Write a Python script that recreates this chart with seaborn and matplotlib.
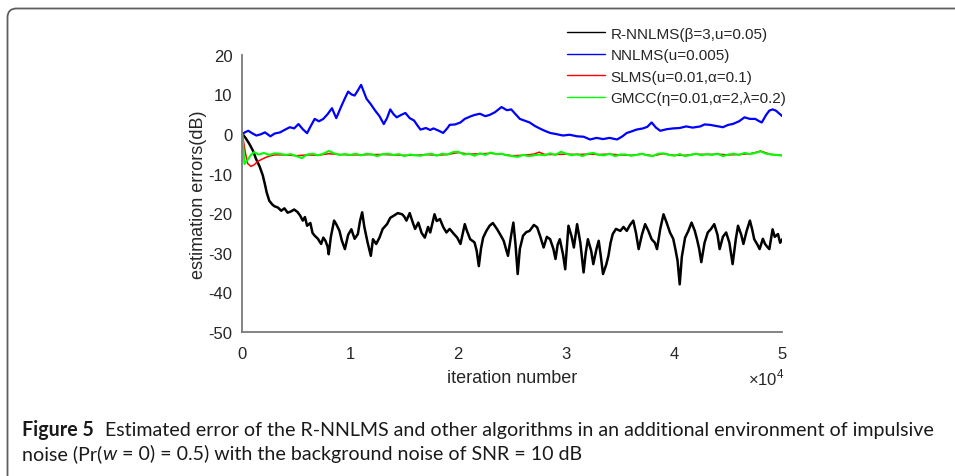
import numpy as np
import pandas as pd
import matplotlib
matplotlib.use('Agg')
import matplotlib.pyplot as plt
from matplotlib.patches import FancyBboxPatch
from matplotlib.ticker import FuncFormatter, MultipleLocator
from matplotlib.transforms import IdentityTransform
import seaborn as sns

# ---- data (x in units of 1e4 iterations, y in dB) ----
rnnlms_x = [0, 0.03, 0.065, 0.1, 0.127, 0.16, 0.19, 0.21, 0.226, 0.25, 0.28, 0.3, 0.33, 0.36,
            0.39, 0.42, 0.45, 0.48, 0.51, 0.535, 0.56, 0.58, 0.6, 0.63, 0.65, 0.67, 0.7, 0.73,
            0.75, 0.77, 0.79, 0.8, 0.82, 0.85, 0.87, 0.9, 0.92, 0.95, 0.98, 1.01, 1.04, 1.07,
            1.09, 1.11, 1.13, 1.16, 1.19, 1.21, 1.24, 1.27, 1.3, 1.34, 1.37, 1.4, 1.44, 1.48,
            1.5, 1.52, 1.55, 1.58, 1.6, 1.63, 1.66, 1.69, 1.72, 1.74, 1.78, 1.8, 1.83, 1.86,
            1.89, 1.92, 1.96, 1.99, 2.02, 2.06, 2.08, 2.11, 2.15, 2.17, 2.19, 2.21, 2.23, 2.26,
            2.29, 2.32, 2.36, 2.39, 2.42, 2.46, 2.49, 2.51, 2.53, 2.55, 2.57, 2.6, 2.63, 2.66,
            2.7, 2.73, 2.76, 2.79, 2.82, 2.85, 2.88, 2.9, 2.92, 2.94, 2.97, 2.99, 3.02, 3.05,
            3.07, 3.1, 3.13, 3.16, 3.18, 3.2, 3.23, 3.25, 3.28, 3.3, 3.32, 3.34, 3.37, 3.39,
            3.41, 3.43, 3.46, 3.5, 3.53, 3.56, 3.59, 3.62, 3.645, 3.67, 3.7, 3.73, 3.76, 3.79,
            3.82, 3.84, 3.87, 3.9, 3.93, 3.96, 3.99, 4.01, 4.03, 4.05, 4.07, 4.1, 4.13, 4.16,
            4.19, 4.21, 4.23, 4.25, 4.28, 4.31, 4.34, 4.37, 4.4, 4.42, 4.45, 4.48, 4.51, 4.54,
            4.57, 4.59, 4.62, 4.64, 4.67, 4.7, 4.72, 4.74, 4.77, 4.79, 4.82, 4.84, 4.86, 4.88,
            4.91, 4.93, 4.96, 4.98, 5.0]
rnnlms_y = [0, -1.0, -2.5, -4.3, -6.3, -8.2, -10.5, -12.8, -14.8, -16.9, -17.9, -18.3, -18.6, -19.4,
            -18.8, -19.9, -19.6, -19.1, -19.7, -20.6, -21.9, -21.0, -23.2, -22.5, -25.0, -25.7, -26.5, -27.8,
            -26.2, -27.0, -28.5, -30.4, -26.0, -21.9, -22.8, -24.5, -26.8, -29.1, -25.5, -24.1, -26.5, -25.3,
            -22.0, -19.8, -23.5, -27.4, -30.8, -26.6, -27.8, -26.2, -24.0, -22.8, -21.2, -20.7, -20.0, -20.3,
            -20.9, -21.9, -20.0, -22.5, -24.0, -22.4, -25.0, -26.2, -23.5, -24.9, -20.3, -22.0, -21.5, -23.5,
            -24.9, -24.0, -25.3, -26.2, -27.8, -22.8, -24.5, -26.6, -27.4, -29.5, -33.4, -29.0, -26.2, -24.5,
            -23.2, -22.5, -24.1, -25.5, -27.0, -30.8, -25.5, -22.4, -28.0, -35.4, -29.0, -25.7, -24.8, -24.5,
            -23.0, -23.6, -26.0, -28.7, -26.0, -26.6, -29.0, -31.6, -28.0, -26.6, -30.5, -34.2, -23.2, -26.0,
            -28.7, -22.8, -27.5, -35.0, -30.0, -26.6, -29.5, -32.9, -29.0, -27.0, -31.0, -35.4, -33.0, -30.8,
            -27.5, -25.3, -24.0, -24.5, -23.5, -24.5, -23.0, -21.9, -25.0, -29.1, -25.5, -22.8, -24.5, -26.6,
            -27.5, -29.1, -24.0, -20.3, -22.5, -24.9, -26.5, -29.1, -32.0, -38.0, -31.0, -26.2, -24.5, -22.4,
            -24.5, -26.6, -29.0, -32.4, -27.5, -24.9, -24.0, -22.8, -25.5, -29.1, -26.0, -24.9, -27.5, -32.9,
            -26.5, -23.2, -25.5, -27.8, -24.5, -21.9, -24.0, -26.6, -28.0, -29.1, -26.5, -27.8, -28.5, -29.1,
            -24.1, -26.0, -25.3, -27.5, -26.6]

nnlms_x = [0, 0.03, 0.056, 0.09, 0.13, 0.17, 0.21, 0.26, 0.3, 0.35, 0.39, 0.44, 0.48, 0.52, 0.56,
           0.6, 0.63, 0.67, 0.71, 0.75, 0.79, 0.83, 0.87, 0.92, 0.95, 0.98, 1.01, 1.04, 1.07, 1.1,
           1.12, 1.15, 1.19, 1.23, 1.27, 1.31, 1.34, 1.37, 1.4, 1.43, 1.47, 1.51, 1.55, 1.59, 1.62,
           1.65, 1.7, 1.74, 1.77, 1.82, 1.86, 1.9, 1.92, 1.97, 2.02, 2.06, 2.11, 2.15, 2.2, 2.25,
           2.29, 2.34, 2.4, 2.45, 2.49, 2.53, 2.57, 2.61, 2.66, 2.71, 2.76, 2.8, 2.85, 2.9, 2.97,
           3.03, 3.1, 3.16, 3.22, 3.28, 3.34, 3.4, 3.47, 3.52, 3.56, 3.6, 3.65, 3.71, 3.75, 3.79,
           3.83, 3.87, 3.93, 3.99, 4.05, 4.11, 4.17, 4.24, 4.28, 4.33, 4.39, 4.45, 4.5, 4.54, 4.6,
           4.65, 4.7, 4.75, 4.78, 4.81, 4.85, 4.88, 4.91, 4.94, 4.97, 5.0]
nnlms_y = [0, 0.5, 0.8, 0.2, -0.4, -0.1, 0.4, -0.6, 0.1, 0.4, 1.0, 1.7, 1.4, 2.5, 1.2,
           0.2, 1.8, 3.8, 3.2, 3.8, 5.0, 6.5, 4.0, 7.2, 9.0, 10.7, 10.0, 9.7, 11.0, 12.4,
           11.0, 8.9, 7.5, 5.9, 4.5, 2.5, 4.0, 6.2, 5.0, 4.2, 4.8, 5.3, 4.0, 3.4, 2.2,
           1.1, 1.5, 1.0, 1.4, 0.8, 0.25, 1.5, 2.3, 2.4, 2.9, 3.8, 4.4, 4.8, 5.1, 4.5,
           4.8, 5.5, 6.8, 6.0, 6.2, 5.0, 3.8, 3.4, 2.9, 2.0, 1.3, 0.8, 0.25, 0.0, -0.4,
           -0.2, -0.6, -0.7, -1.4, -1.0, -1.3, -1.0, -1.4, -0.6, 0.25, 0.6, 1.1, 1.4, 1.8, 2.9,
           1.6, 0.8, 1.2, 1.4, 1.5, 1.9, 1.6, 1.9, 2.4, 2.3, 2.0, 1.7, 2.3, 2.5, 3.2,
           4.2, 3.8, 3.8, 3.3, 2.9, 4.8, 5.9, 6.2, 5.9, 5.2, 4.5]

slms_x = [0, 0.03, 0.05, 0.08, 0.11, 0.14, 0.18, 0.22, 0.25, 0.3, 0.4, 0.5, 0.6, 0.7, 0.8,
          0.9, 1.0, 1.1, 1.2, 1.3, 1.4, 1.5, 1.6, 1.7, 1.8, 1.9, 2.0, 2.1, 2.2, 2.3, 2.4,
          2.5, 2.6, 2.7, 2.75, 2.8, 2.9, 3.0, 3.1, 3.2, 3.3, 3.4, 3.5, 3.6, 3.7, 3.8, 3.9,
          4.0, 4.1, 4.2, 4.3, 4.4, 4.5, 4.6, 4.7, 4.75, 4.8, 4.85, 4.9, 5.0]
slms_y = [0, -5.0, -7.5, -8.2, -7.8, -7.0, -6.4, -5.9, -5.6, -5.3, -5.3, -5.5, -5.3, -5.4, -5.0,
          -5.2, -5.3, -5.3, -5.2, -5.2, -5.3, -5.4, -5.4, -5.2, -5.4, -5.2, -4.7, -5.1, -5.0, -4.9, -5.1,
          -5.5, -5.4, -5.1, -4.6, -5.2, -5.2, -5.1, -5.2, -5.1, -5.2, -5.1, -5.3, -5.4, -5.1, -5.5, -5.0,
          -5.4, -5.4, -5.1, -5.2, -5.1, -5.3, -5.2, -5.0, -4.7, -4.3, -4.8, -5.2, -5.4]

gmcc_x = [0, 0.02, 0.05, 0.08, 0.11, 0.15, 0.2, 0.25, 0.3, 0.35, 0.4, 0.45, 0.5, 0.55, 0.6,
          0.65, 0.7, 0.75, 0.8, 0.85, 0.9, 0.95, 1.0, 1.05, 1.1, 1.15, 1.2, 1.25, 1.3, 1.35,
          1.4, 1.45, 1.5, 1.55, 1.6, 1.65, 1.7, 1.75, 1.8, 1.85, 1.9, 1.95, 2.0, 2.05, 2.1,
          2.15, 2.2, 2.25, 2.3, 2.35, 2.4, 2.45, 2.5, 2.55, 2.6, 2.65, 2.7, 2.75, 2.8, 2.85,
          2.9, 2.95, 3.0, 3.05, 3.1, 3.15, 3.2, 3.25, 3.3, 3.35, 3.4, 3.45, 3.5, 3.55, 3.6,
          3.65, 3.7, 3.75, 3.8, 3.85, 3.9, 3.95, 4.0, 4.05, 4.1, 4.15, 4.2, 4.25, 4.3, 4.35,
          4.4, 4.45, 4.5, 4.55, 4.6, 4.65, 4.7, 4.75, 4.8, 4.85, 4.9, 4.95, 5.0]
gmcc_y = [0, -7.6, -6.5, -5.3, -4.6, -5.2, -4.8, -5.3, -4.9, -5.0, -5.3, -5.1, -5.6, -6.1, -5.2,
          -5.0, -5.4, -5.0, -4.3, -4.9, -5.3, -5.1, -5.3, -5.0, -5.4, -5.0, -5.2, -5.6, -5.1, -5.0,
          -5.3, -5.1, -5.6, -5.2, -5.4, -5.5, -5.2, -5.0, -5.5, -5.0, -5.2, -4.6, -4.5, -5.2, -5.0,
          -5.5, -4.9, -5.3, -4.7, -5.1, -5.0, -5.4, -5.6, -5.8, -5.3, -5.6, -5.4, -5.2, -5.4, -4.9,
          -5.3, -4.5, -5.0, -5.4, -5.1, -5.6, -5.0, -4.8, -5.3, -5.4, -5.0, -5.6, -5.2, -5.2, -5.5,
          -5.3, -5.0, -5.4, -5.6, -5.0, -4.9, -5.3, -5.5, -5.1, -5.6, -5.3, -5.0, -5.4, -5.1, -5.3,
          -5.0, -5.6, -5.2, -5.0, -5.3, -4.8, -5.1, -4.8, -4.4, -5.0, -5.2, -5.3, -5.5]

series = [
    ("R-NNLMS(β=3,u=0.05)", rnnlms_x, rnnlms_y, "#000000", 1.8),
    ("NNLMS(u=0.005)", nnlms_x, nnlms_y, "#0000ff", 1.6),
    ("SLMS(u=0.01,α=0.1)", slms_x, slms_y, "#ff0000", 1.1),
    ("GMCC(η=0.01,α=2,λ=0.2)", gmcc_x, gmcc_y, "#00ff00", 1.5),
]

W, H = 955, 477

sns.set_style("white")
plt.rcParams['font.family'] = ['Liberation Sans', 'DejaVu Sans']
plt.rcParams['mathtext.fontset'] = 'custom'
plt.rcParams['mathtext.rm'] = 'Liberation Sans'
plt.rcParams['axes.unicode_minus'] = False

fig = plt.figure(figsize=(W / 100, H / 100), dpi=100)
fig.patch.set_facecolor('white')

# axes box in pixel terms: x 0..5 -> 242..782, y 20..-50 -> 56..333
ax = fig.add_axes([242.3 / W, 1 - 332.8 / H, 540 / W, 277 / H])

for name, xs, ys, col, lw in series:
    df = pd.DataFrame({"iter": np.array(xs) * 1e4, "err": ys})
    sns.lineplot(data=df, x="iter", y="err", ax=ax, color=col, linewidth=lw,
                 label=name, sort=False, estimator=None)

ax.set_xlim(0, 5e4)
ax.set_ylim(-50, 20)
ax.xaxis.set_major_locator(MultipleLocator(1e4))
ax.yaxis.set_major_locator(MultipleLocator(10))
ax.xaxis.set_major_formatter(FuncFormatter(lambda v, p: f"{v / 1e4:g}"))

for side in ("top", "right"):
    ax.spines[side].set_visible(False)
for side in ("left", "bottom"):
    ax.spines[side].set_color("#7a7a7a")
    ax.spines[side].set_linewidth(1.3)

ax.tick_params(axis="both", direction="in", length=5, width=1.1, color="#7a7a7a",
               labelcolor="#262626", labelsize=12)
ax.tick_params(axis="x", pad=10)
ax.tick_params(axis="y", pad=7)

ax.set_xlabel("iteration number", fontsize=13, color="#262626")
ax.set_ylabel("estimation errors(dB)", fontsize=13, color="#262626")
ax.xaxis.set_label_coords(0.4994, -0.135)
ax.yaxis.set_label_coords(-0.066, 0.5)

ax.text(1.005, -0.128, r"$\times10^{4}$", transform=ax.transAxes, ha="right", va="top",
        fontsize=12, color="#262626")

leg = ax.legend(loc="upper left", bbox_to_anchor=(567 / W, 1 - 27.5 / H),
                bbox_transform=fig.transFigure, frameon=False, fontsize=11,
                handlelength=2.5, handletextpad=0.36, labelspacing=0.5,
                borderpad=0, borderaxespad=0)
for h in leg.get_lines():
    h.set_linewidth(1.0)

# page frame with rounded corner
frame = FancyBboxPatch((7.5, -30), 1000, H - 9.5 + 30,
                       boxstyle="round,pad=0,rounding_size=9",
                       transform=IdentityTransform(), facecolor="none",
                       edgecolor="#5f5f5f", linewidth=1.3, zorder=0)
fig.add_artist(frame)

# caption with mixed weights, laid out run by run
cap_font = ['Lato', 'DejaVu Sans']
renderer = fig.canvas.get_renderer()


def text_width(s, size, **kw):
    t = fig.text(0, 0, s, fontsize=size, family=cap_font, **kw)
    w = t.get_window_extent(renderer).width
    t.remove()
    return w


line1 = [("Figure 5", {"weight": "bold"}),
         ("Estimated error of the R-NNLMS and other algorithms in an additional environment of impulsive", {})]
line2 = [("noise (Pr(", {}), ("w", {"style": "italic"}),
         (" = 0) = 0.5) with the background noise of SNR = 10 dB", {})]

base = 11.0
gap_f = 0.55  # extra gap after "Figure 5", in em
w1 = sum(text_width(s, base, **kw) for s, kw in line1) + gap_f * base * 100 / 72
cap_size = base * (930 - 22) / w1


def draw_line(runs, y_px, gaps):
    x = 22.0
    for (s, kw), g in zip(runs, gaps):
        fig.text(x / W, 1 - y_px / H, s, fontsize=cap_size, family=cap_font,
                 color="#1a1a1a", va="baseline", ha="left", **kw)
        x += text_width(s, cap_size, **kw) + g


em = cap_size * 100 / 72
draw_line(line1, 436, [gap_f * em, 0])
draw_line(line2, 460, [0, 0, 0])

fig.savefig("out.png", dpi=100)
